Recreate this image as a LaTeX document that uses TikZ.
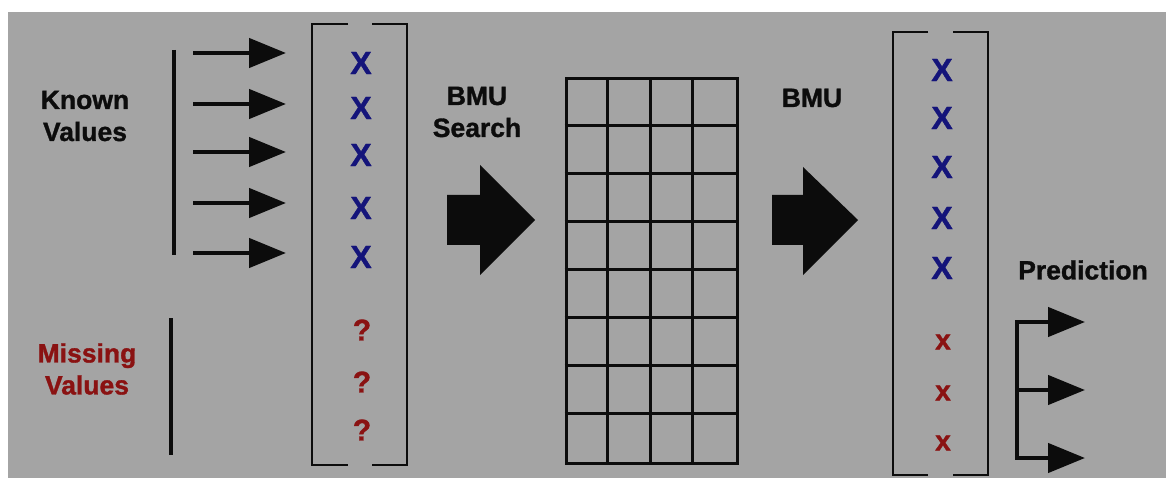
\documentclass[tikz,border=0pt]{standalone}
\usepackage{fontspec}
\setmainfont{Liberation Sans}[BoldFeatures={FakeBold=1.2}]
\usetikzlibrary{arrows.meta}
\definecolor{bg}{HTML}{A4A4A4}
\definecolor{xblue}{HTML}{14147A}
\definecolor{xred}{HTML}{8A1212}
\definecolor{ink}{HTML}{0C0C0C}
\begin{document}
\begin{tikzpicture}[x=1pt,y=-1pt,
  lbl/.style={font=\bfseries\fontsize{26.5}{32}\selectfont, align=center, inner sep=0, text=ink},
  bigx/.style={font=\bfseries\fontsize{32}{32}\selectfont, text=xblue, inner sep=0},
  qm/.style={font=\bfseries\fontsize{30}{30}\selectfont, text=xred, inner sep=0},
  smallx/.style={font=\bfseries\fontsize{28}{28}\selectfont, text=xred, inner sep=0},
  feed/.style={line width=4.5pt, draw=ink, -{Triangle[length=37pt,width=29pt]}},
  bar/.style={line width=4.5pt, draw=ink},
  brk/.style={line width=2.5pt, draw=ink},
  gridline/.style={line width=3pt, draw=ink},
  bigarrow/.style={fill=ink}]
\useasboundingbox (0,0) rectangle (1166,478);
\fill[bg] (8,12) rectangle (1166,478);

% labels
\node[lbl] (known) at (85,116) {Known\\Values};
\node[lbl, text=xred] (missing) at (87,369) {Missing\\Values};
\node[lbl] (bmusearch) at (477,112) {BMU\\Search};
\node[lbl] (bmu) at (812,98) {BMU};
\node[lbl] (pred) at (1083,270) {Prediction};

% grouping bars
\coordinate (kt) at (174,50); \coordinate (kb) at (174,255);
\draw[bar] (kt) -- (kb);
\coordinate (mt) at (171,318); \coordinate (mb) at (171,455);
\draw[bar] (mt) -- (mb);

% input vector
\draw[brk] (348,24) -| (312,465) -- (348,465);
\draw[brk] (372,24) -| (407,465) -- (372,465);
\foreach \y [count=\i] in {63,108,155,208,257}
  \node[bigx] (in\i) at (361,\y) {X};
\foreach \y [count=\i] in {330,382,430}
  \node[qm] (q\i) at (362,\y) {?};

% feeding arrows
\foreach \y [count=\i] in {53,104,152,203,253} {
  \coordinate (fs\i) at (193,\y);
  \coordinate (fe\i) at (286,\y);
  \draw[feed] (fs\i) -- (fe\i);
}

% BMU search arrow
\fill[bigarrow] (447,195) -- (480,195) -- (480,165) -- (535,220) -- (480,275) -- (480,245) -- (447,245) -- cycle;

% SOM grid
\node[gridline, minimum width=171pt, minimum height=384pt, inner sep=0] (som) at (651.5,271) {};
\foreach \i in {1,2,3}
  \draw[gridline] ([xshift=\i*42.75pt]som.north west) -- ([xshift=\i*42.75pt]som.south west);
\foreach \i in {1,...,7}
  \draw[gridline] ([yshift=-\i*48pt]som.north west) -- ([yshift=-\i*48pt]som.north east);

% BMU arrow
\fill[bigarrow] (772,195) -- (803,195) -- (803,167) -- (858,220) -- (803,275) -- (803,245) -- (772,245) -- cycle;

% output vector
\draw[brk] (928,32) -| (893,475) -- (928,475);
\draw[brk] (953,32) -| (988,475) -- (953,475);
\foreach \y [count=\i] in {70,118,167,218,268}
  \node[bigx] (out\i) at (942,\y) {X};
\foreach \y [count=\i] in {342,393,443}
  \node[smallx] (px\i) at (943,\y) {x};

% prediction arrows
\coordinate (pt) at (1017,322); \coordinate (pm) at (1017,390); \coordinate (pb) at (1017,458);
\draw[bar, line cap=rect] (pt) -- (pb);
\coordinate (pe1) at (1085,322); \coordinate (pe2) at (1085,390); \coordinate (pe3) at (1085,458);
\draw[feed] (pt) -- (pe1);
\draw[feed] (pm) -- (pe2);
\draw[feed] (pb) -- (pe3);
\end{tikzpicture}
\end{document}
